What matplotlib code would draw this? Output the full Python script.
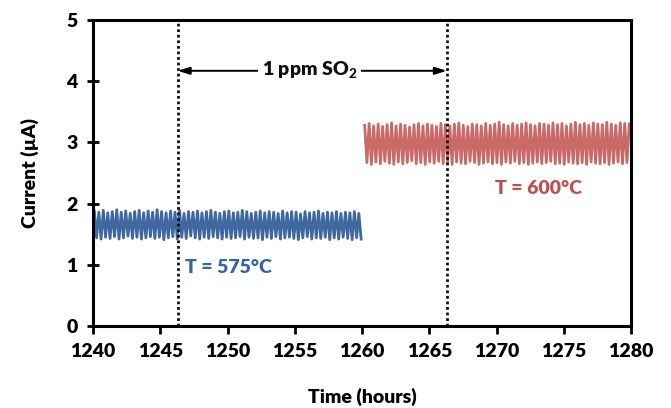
import numpy as np
import matplotlib
matplotlib.use("Agg")
import matplotlib.pyplot as plt

# ---------------- data ----------------
sample_step_h = 1.0 / 6.0          # logging interval (hours)
blue_start, red_start = 1240.1, 1260.2

blue_high = [1.88,1.86,1.89,1.85,1.87,1.90,1.86,1.88,1.84,1.87,
             1.89,1.85,1.88,1.86,1.90,1.87,1.85,1.88,1.86,1.89,
             1.84,1.87,1.86,1.88,1.85,1.87,1.89,1.86,1.84,1.87,
             1.88,1.85,1.86,1.89,1.87,1.84,1.86,1.88,1.85,1.87,
             1.86,1.84,1.88,1.85,1.87,1.86,1.83,1.87,1.85,1.86,
             1.88,1.84,1.86,1.85,1.87,1.84,1.86,1.85,1.87,1.84]
blue_low = [1.44,1.42,1.45,1.43,1.46,1.42,1.44,1.47,1.43,1.45,
            1.42,1.44,1.46,1.43,1.45,1.41,1.44,1.46,1.42,1.45,
            1.43,1.47,1.44,1.42,1.45,1.43,1.46,1.44,1.42,1.45,
            1.43,1.44,1.46,1.42,1.45,1.43,1.44,1.41,1.45,1.43,
            1.46,1.42,1.44,1.45,1.43,1.41,1.44,1.46,1.42,1.44,
            1.43,1.45,1.41,1.44,1.42,1.45,1.43,1.41,1.44,1.42]
red_high = [3.28,3.31,3.27,3.30,3.26,3.29,3.32,3.27,3.30,3.28,
            3.25,3.29,3.31,3.27,3.30,3.28,3.26,3.31,3.29,3.27,
            3.30,3.32,3.28,3.26,3.30,3.29,3.27,3.31,3.28,3.30,
            3.33,3.29,3.27,3.31,3.28,3.30,3.32,3.29,3.27,3.31,
            3.30,3.28,3.32,3.29,3.31,3.27,3.30,3.33,3.29,3.31,
            3.28,3.32,3.30,3.29,3.33,3.30,3.28,3.32,3.31,3.30]
red_low = [2.67,2.64,2.68,2.65,2.69,2.66,2.64,2.68,2.65,2.67,
           2.70,2.65,2.67,2.64,2.68,2.66,2.69,2.65,2.67,2.64,
           2.68,2.66,2.65,2.69,2.67,2.64,2.66,2.68,2.65,2.67,
           2.64,2.68,2.66,2.69,2.65,2.67,2.64,2.66,2.68,2.65,
           2.67,2.69,2.65,2.66,2.64,2.68,2.66,2.65,2.67,2.64,
           2.68,2.66,2.65,2.67,2.64,2.66,2.68,2.65,2.67,2.66]

so2_on, so2_off = 1246.3, 1266.3
x_ticks = [1240, 1245, 1250, 1255, 1260, 1265, 1270, 1275, 1280]
y_ticks = [0, 1, 2, 3, 4, 5]

def interleave(high, low):
    out = []
    for h, l in zip(high, low):
        out += [h, l]
    return np.array(out)

blue_y = interleave(blue_high, blue_low)
red_y = interleave(red_high, red_low)[:119]
blue_t = blue_start + sample_step_h * np.arange(len(blue_y))
red_t = red_start + sample_step_h * np.arange(len(red_y))

# ---------------- plot ----------------
FONT = ['Lato', 'DejaVu Sans']
plt.rcParams['font.family'] = FONT
plt.rcParams['mathtext.fontset'] = 'custom'
plt.rcParams['mathtext.rm'] = 'Lato'
plt.rcParams['mathtext.bf'] = 'Lato:black'
W = 'heavy'

fig = plt.figure(figsize=(6.71, 4.08), dpi=100)
ax = fig.add_axes([93/671, 82/408, 538/671, 306/408])

blue_c = '#2A5796'
red_c = '#C0504D'
ax.plot(blue_t, blue_y, color=blue_c, lw=2.0, alpha=0.9, zorder=2)
ax.plot(red_t, red_y, color=red_c, lw=2.0, alpha=0.85, zorder=2)

for xv in (so2_on, so2_off):
    ax.axvline(xv, color='#111111', lw=2.0, linestyle=(0, (1, 1)), zorder=3)

ax.annotate('', xy=(so2_off, 4.17), xytext=(so2_on, 4.17),
            arrowprops=dict(arrowstyle='<|-|>,head_length=0.7,head_width=0.22',
                            color='black', lw=1.4, shrinkA=0, shrinkB=0), zorder=4)
ax.text((so2_on + so2_off) / 2 - 0.2, 4.17, r'1 ppm SO$_\mathbf{2}$', ha='center', va='center',
        fontsize=14, fontweight=W, color='#111111', zorder=5,
        bbox=dict(facecolor='white', edgecolor='none', pad=3))

ax.text(1250.1, 0.95, 'T = 575°C', color='#3465A4', fontsize=14, fontweight=W,
        ha='center', va='center')
ax.text(1273.1, 2.25, 'T = 600°C', color=red_c, fontsize=14, fontweight=W,
        ha='center', va='center')

ax.set_xlim(1240, 1280)
ax.set_ylim(0, 5)
ax.set_xticks(x_ticks)
ax.set_yticks(y_ticks)
ax.set_xticklabels([str(v) for v in x_ticks], fontweight=W, fontsize=14)
ax.set_yticklabels([str(v) for v in y_ticks], fontweight=W, fontsize=14)
ax.tick_params(axis='x', direction='out', length=6, width=2, pad=6)
ax.tick_params(axis='y', direction='inout', length=8, width=2, pad=7)
for s in ax.spines.values():
    s.set_linewidth(2.2)
    s.set_color('black')

ax.set_xlabel('Time (hours)', fontsize=14, fontweight=W, labelpad=20)
ax.set_ylabel('Current (µA)', fontsize=14, fontweight=W, labelpad=20)

fig.savefig('out.png', dpi=100)
